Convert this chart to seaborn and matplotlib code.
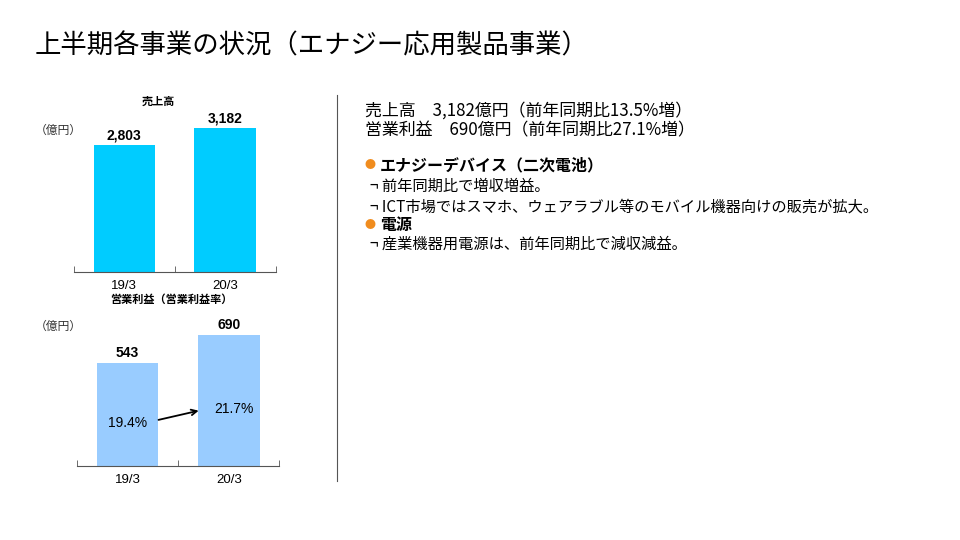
import matplotlib
matplotlib.use("Agg")
import matplotlib.pyplot as plt
import seaborn as sns
import pandas as pd

plt.rcParams["font.family"] = ["Noto Sans CJK JP", "DejaVu Sans"]
NUM = "Liberation Sans"

years = ["19/3", "20/3"]
sales = [2803, 3182]
profit = [543, 690]
margin = ["19.4%", "21.7%"]

fig = plt.figure(figsize=(9.6, 5.4), dpi=100)
fig.patch.set_facecolor("white")

def style(ax, ymax):
    ax.set_ylim(0, ymax)
    ax.set_xlim(-0.5, 1.5)
    for s in ["top", "right", "left"]:
        ax.spines[s].set_visible(False)
    ax.spines["bottom"].set_color("#555555")
    ax.set_yticks([])
    ax.set_xlabel(""); ax.set_ylabel("")
    ax.tick_params(axis="x", length=0, labelsize=9.5, pad=6)
    for t in ax.get_xticklabels():
        t.set_family(NUM)
    ax.set_xticks([-0.5, 0.5, 1.5], minor=True)
    ax.tick_params(axis="x", which="minor", length=4, direction="in", color="#555555")

ax1 = fig.add_axes([0.077, 0.496, 0.21, 0.293])
sns.barplot(x=years, y=sales, color="#00CCFF", saturation=1, width=0.61, ax=ax1)
style(ax1, 3500)
for i, v in enumerate(sales):
    ax1.text(i, v + 60, f"{v:,}", ha="center", va="bottom", fontsize=10, fontweight="bold", family=NUM)

ax2 = fig.add_axes([0.080, 0.137, 0.211, 0.281])
sns.barplot(x=years, y=profit, color="#99CCFF", saturation=1, width=0.61, ax=ax2)
style(ax2, 800)
for i, v in enumerate(profit):
    ax2.text(i, v + 15, f"{v:,}", ha="center", va="bottom", fontsize=10, fontweight="bold", family=NUM)
ax2.text(0, 225, margin[0], ha="center", va="center", fontsize=10, family=NUM)
ax2.text(1.05, 300, margin[1], ha="center", va="center", fontsize=10, family=NUM)
ax2.annotate("", xy=(0.73, 295), xytext=(0.28, 240),
             arrowprops=dict(arrowstyle="->", color="black", lw=1.3))

fig.text(0.036, 0.915, "上半期各事業の状況（エナジー応用製品事業）", fontsize=19, va="center")
fig.text(0.165, 0.813, "売上高", fontsize=8, fontweight="bold", ha="center", va="center")
fig.text(0.178, 0.445, "営業利益（営業利益率）", fontsize=8, fontweight="bold", ha="center", va="center")
fig.text(0.036, 0.758, "（億円）", fontsize=8.5, va="center", color="#333333")
fig.text(0.036, 0.395, "（億円）", fontsize=8.5, va="center", color="#333333")

fig.add_artist(plt.Line2D([0.351, 0.351], [0.11, 0.825], color="#555555", lw=0.8))

x0 = 0.38
fig.text(x0, 0.796, "売上高　3,182億円（前年同期比13.5%増）", fontsize=12.2, va="center")
fig.text(x0, 0.759, "営業利益　690億円（前年同期比27.1%増）", fontsize=12.2, va="center")
fig.text(x0, 0.694, "●", fontsize=8, color="#F08C1E", va="center")
fig.text(x0 + 0.016, 0.694, "エナジーデバイス（二次電池）", fontsize=11.5, fontweight="bold", va="center")
fig.text(x0 + 0.005, 0.654, "¬ 前年同期比で増収増益。", fontsize=11, va="center")
fig.text(x0 + 0.005, 0.617, "¬ ICT市場ではスマホ、ウェアラブル等のモバイル機器向けの販売が拡大。", fontsize=11, va="center")
fig.text(x0, 0.583, "●", fontsize=8, color="#F08C1E", va="center")
fig.text(x0 + 0.016, 0.583, "電源", fontsize=11.5, fontweight="bold", va="center")
fig.text(x0 + 0.005, 0.548, "¬ 産業機器用電源は、前年同期比で減収減益。", fontsize=11, va="center")

fig.savefig("out.png", dpi=100)
